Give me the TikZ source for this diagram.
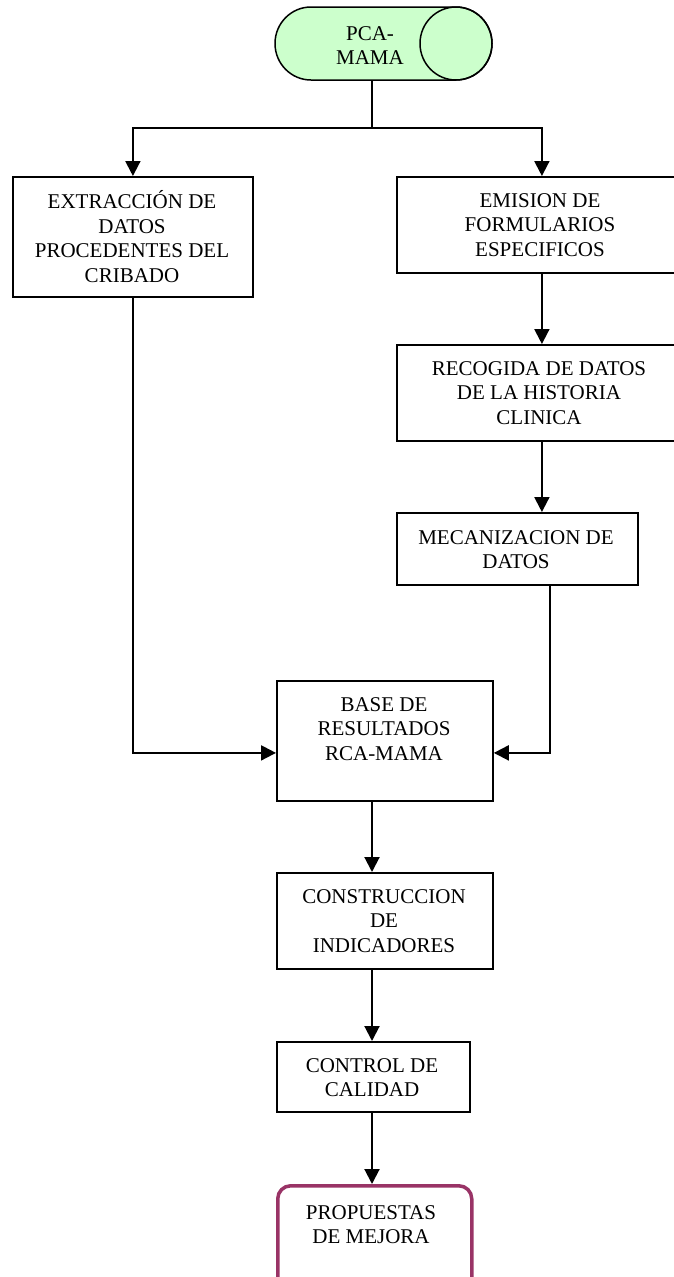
\documentclass[tikz,border=0pt]{standalone}
\usepackage{fontspec}
\setmainfont{Liberation Serif}
\usetikzlibrary{arrows.meta,calc}
\definecolor{cylfill}{HTML}{CCFFCC}
\definecolor{mejora}{HTML}{993366}
\tikzset{
  box/.style={draw=black, line width=1.8pt, rectangle, inner sep=0pt, anchor=north west},
  txt/.style={align=center, inner sep=0pt, font=\fontsize{21}{24.5}\selectfont},
  conn/.style={line width=2pt},
  arr/.style={line width=2pt, -{Triangle[length=15pt,width=15pt]}},
}
\begin{document}
\begin{tikzpicture}[x=1pt,y=-1pt]
\useasboundingbox (0,0) rectangle (673,1277);
% cylinder
\draw[line width=1.5pt, fill=cylfill]
  (311,7) -- (456,7) arc[start angle=-90,end angle=90,x radius=36,y radius=36.5]
  -- (311,80) arc[start angle=90,end angle=270,x radius=36,y radius=36.5] -- cycle;
\draw[line width=1.5pt] (456,43.5) ellipse[x radius=36,y radius=36.5];
\node[txt] (pca) at (370,45.5) {PCA-\\MAMA};
\coordinate (pcab) at (372,80);
\coordinate (j) at (372,128);
% boxes
\node[box, minimum width=240pt, minimum height=120pt] (b1) at (12,176) {};
\node[box, minimum width=290pt, minimum height=96pt] (b2) at (396,176) {};
\node[box, minimum width=290pt, minimum height=96pt] (b3) at (396,344) {};
\node[box, minimum width=241pt, minimum height=72pt] (b4) at (396,512) {};
\node[box, minimum width=216pt, minimum height=120pt] (b5) at (276,680) {};
\node[box, minimum width=216pt, minimum height=96pt] (b6) at (276,872) {};
\node[box, minimum width=193pt, minimum height=70pt] (b7) at (276,1041) {};
\node[draw=mejora, line width=3.5pt, rounded corners=13pt, rectangle, inner sep=0pt, anchor=north west,
      minimum width=194pt, minimum height=120pt] (b8) at (276,1184) {};
% texts
\node[txt] (t1) at (132,236.5) {EXTRACCIÓN DE\\DATOS\\PROCEDENTES DEL\\CRIBADO};
\node[txt] (t2) at (540,225) {EMISION DE\\FORMULARIOS\\ESPECIFICOS};
\node[txt] (t3) at (539,393) {RECOGIDA DE DATOS\\DE LA HISTORIA\\CLINICA};
\node[txt] (t4) at (516,549.5) {MECANIZACION DE\\DATOS};
\node[txt] (t5) at (384,729) {BASE DE\\RESULTADOS\\RCA-MAMA};
\node[txt] (t6) at (384,921) {CONSTRUCCION\\DE\\INDICADORES};
\node[txt] (t7) at (372,1077.5) {CONTROL DE\\CALIDAD};
\node[txt] (t8) at (371,1224.5) {PROPUESTAS\\DE MEJORA};
% connectors
\draw[conn] (pcab) -- (j);
\draw[arr] (j) -| (b1.north);
\draw[arr] (j) -| (b2.north);
\draw[arr] (b2.south) -- (b3.north);
\draw[arr] (b3.south) -- (b4.north -| b3.south);
\draw[arr] (b1.south) |- ([yshift=-12pt]b5.west);
\draw[arr] ([xshift=32.5pt]b4.south) |- ([yshift=-12pt]b5.east);
\draw[arr] (b5.south -| t7) -- (b6.north -| t7);
\draw[arr] (b6.south -| t7) -- (b7.north -| t7);
\draw[arr] (b7.south -| t7) -- (b8.north -| t7);
\end{tikzpicture}
\end{document}
